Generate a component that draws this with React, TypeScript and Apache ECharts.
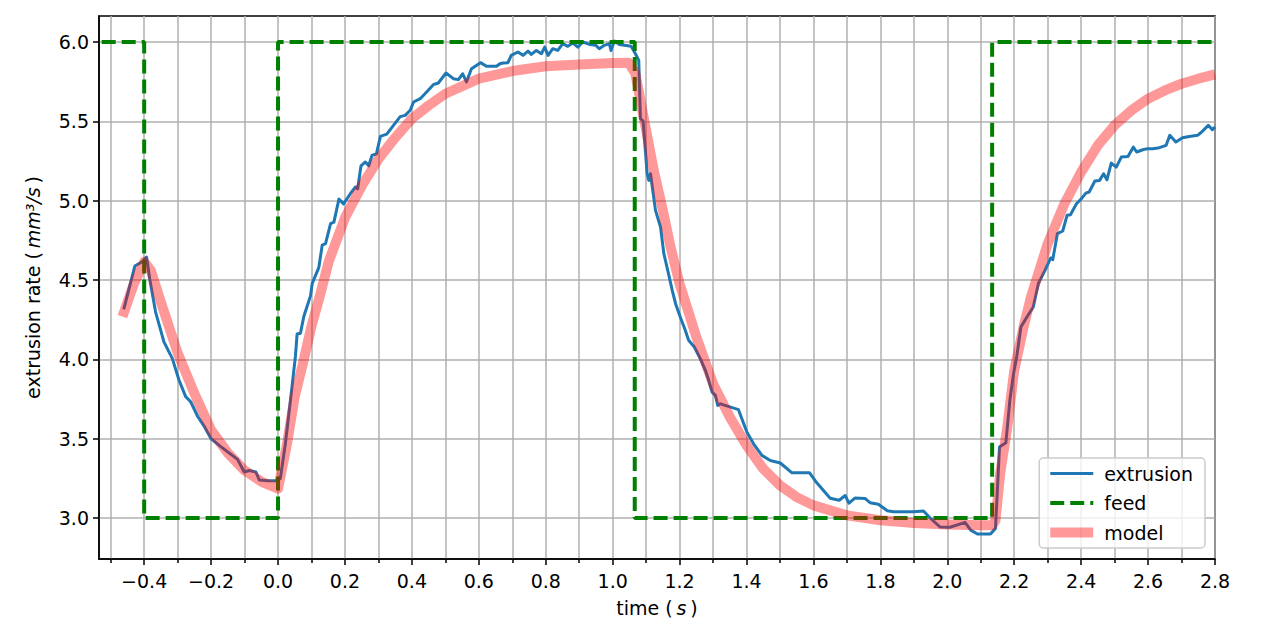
import React, { useEffect, useRef } from "react";
import * as echarts from "echarts";

// time (s), extrusion rate (mm^3/s)
const extrusion: [number, number][] = [
  [-0.461, 4.315], [-0.428, 4.588], [-0.406, 4.615], [-0.393, 4.645], [-0.383, 4.5], [-0.366, 4.3],
  [-0.341, 4.11], [-0.316, 4.006], [-0.296, 3.87], [-0.276, 3.765], [-0.261, 3.733], [-0.24, 3.64],
  [-0.22, 3.576], [-0.2, 3.5], [-0.171, 3.45], [-0.146, 3.41], [-0.121, 3.37], [-0.101, 3.29],
  [-0.086, 3.3], [-0.066, 3.29], [-0.056, 3.24], [-0.031, 3.235], [-0.005, 3.235], [0.007, 3.25],
  [0.022, 3.47], [0.037, 3.74], [0.052, 4.02], [0.057, 4.16], [0.067, 4.165], [0.077, 4.27],
  [0.097, 4.4], [0.102, 4.477], [0.122, 4.58], [0.132, 4.72], [0.142, 4.73], [0.157, 4.855],
  [0.167, 4.865], [0.182, 5.01], [0.196, 4.98], [0.216, 5.044], [0.231, 5.086], [0.238, 5.075],
  [0.248, 5.22], [0.261, 5.244], [0.271, 5.22], [0.281, 5.286], [0.294, 5.296], [0.306, 5.405],
  [0.325, 5.42], [0.345, 5.475], [0.365, 5.53], [0.38, 5.538], [0.395, 5.57], [0.405, 5.622],
  [0.425, 5.643], [0.444, 5.685], [0.464, 5.731], [0.479, 5.742], [0.502, 5.805], [0.524, 5.769],
  [0.539, 5.763], [0.552, 5.8], [0.563, 5.748], [0.578, 5.832], [0.605, 5.87], [0.623, 5.847],
  [0.653, 5.847], [0.663, 5.863], [0.673, 5.868], [0.687, 5.87], [0.697, 5.916], [0.717, 5.937],
  [0.732, 5.916], [0.747, 5.943], [0.757, 5.922], [0.772, 5.947], [0.787, 5.926], [0.797, 5.968],
  [0.807, 5.916], [0.821, 5.958], [0.836, 5.947], [0.851, 5.99], [0.866, 5.973], [0.881, 5.994],
  [0.896, 5.968], [0.911, 6.0], [0.931, 5.985], [0.95, 5.979], [0.96, 5.958], [0.975, 5.979],
  [0.99, 5.99], [0.995, 5.947], [1.005, 6.006], [1.02, 5.985], [1.055, 5.973], [1.068, 5.926],
  [1.078, 5.884], [1.083, 5.517], [1.091, 5.502], [1.103, 5.17], [1.108, 5.128], [1.113, 5.17],
  [1.128, 4.939], [1.143, 4.834], [1.153, 4.666], [1.168, 4.529], [1.178, 4.435], [1.188, 4.351],
  [1.202, 4.267], [1.217, 4.183], [1.227, 4.12], [1.244, 4.078], [1.262, 4.004], [1.277, 3.931],
  [1.287, 3.868], [1.297, 3.794], [1.307, 3.773], [1.314, 3.71], [1.322, 3.72], [1.376, 3.683],
  [1.401, 3.542], [1.421, 3.468], [1.446, 3.395], [1.471, 3.363], [1.501, 3.347], [1.535, 3.286],
  [1.588, 3.286], [1.61, 3.222], [1.65, 3.125], [1.677, 3.112], [1.695, 3.142], [1.706, 3.094],
  [1.724, 3.126], [1.754, 3.124], [1.769, 3.097], [1.794, 3.087], [1.821, 3.046], [1.839, 3.04],
  [1.899, 3.04], [1.929, 3.044], [1.948, 3.002], [1.978, 2.944], [2.008, 2.942], [2.053, 2.973],
  [2.07, 2.924], [2.09, 2.9], [2.129, 2.9], [2.144, 2.935], [2.156, 3.448], [2.175, 3.474],
  [2.187, 3.743], [2.198, 3.91], [2.208, 4.025], [2.22, 4.204], [2.238, 4.267], [2.257, 4.33],
  [2.272, 4.477], [2.292, 4.561], [2.309, 4.639], [2.315, 4.628], [2.329, 4.792], [2.345, 4.809],
  [2.358, 4.908], [2.368, 4.912], [2.386, 4.981], [2.401, 5.013], [2.414, 5.048], [2.424, 5.055],
  [2.441, 5.124], [2.455, 5.128], [2.467, 5.17], [2.477, 5.132], [2.49, 5.237], [2.505, 5.212],
  [2.52, 5.275], [2.54, 5.279], [2.556, 5.338], [2.566, 5.307], [2.584, 5.321], [2.599, 5.328],
  [2.614, 5.328], [2.634, 5.334], [2.654, 5.349], [2.665, 5.412], [2.683, 5.37], [2.703, 5.397],
  [2.723, 5.405], [2.748, 5.412], [2.76, 5.433], [2.78, 5.475], [2.792, 5.447], [2.8, 5.464],
];

const feed: [number, number][] = [
  [-0.527, 6.0], [-0.4, 6.0], [-0.4, 3.0], [0.0, 3.0], [0.0, 6.0], [1.066, 6.0],
  [1.066, 3.0], [2.134, 3.0], [2.134, 6.0], [2.8, 6.0],
];

const model: [number, number][] = [
  [-0.465, 4.27], [-0.43, 4.48], [-0.4, 4.615], [-0.38, 4.56], [-0.35, 4.36], [-0.3, 4.04],
  [-0.25, 3.786], [-0.2, 3.555], [-0.15, 3.41], [-0.1, 3.3], [-0.05, 3.23], [0.0, 3.185],
  [0.027, 3.47], [0.05, 3.765], [0.075, 3.98], [0.1, 4.21], [0.125, 4.4], [0.152, 4.62],
  [0.201, 4.897], [0.251, 5.097], [0.301, 5.265], [0.35, 5.397], [0.4, 5.517], [0.45, 5.6],
  [0.5, 5.674], [0.6, 5.769], [0.7, 5.817], [0.8, 5.847], [0.9, 5.859], [1.0, 5.868],
  [1.048, 5.87], [1.068, 5.8], [1.083, 5.632], [1.1, 5.443], [1.123, 5.19], [1.15, 4.939],
  [1.173, 4.708], [1.2, 4.477], [1.25, 4.141], [1.3, 3.847], [1.35, 3.637], [1.4, 3.458],
  [1.45, 3.311], [1.5, 3.206], [1.55, 3.132], [1.6, 3.08], [1.7, 3.017], [1.8, 2.986],
  [1.9, 2.969], [2.0, 2.96], [2.1, 2.954], [2.135, 2.955], [2.144, 2.985], [2.158, 3.279],
  [2.178, 3.553], [2.2, 3.93], [2.228, 4.204], [2.25, 4.393], [2.3, 4.729], [2.35, 4.981],
  [2.4, 5.181], [2.45, 5.349], [2.5, 5.475], [2.55, 5.569], [2.6, 5.643], [2.65, 5.695],
  [2.7, 5.737], [2.75, 5.769], [2.8, 5.796],
];

const xMajorTicks = [-0.4, -0.2, 0.0, 0.2, 0.4, 0.6, 0.8, 1.0, 1.2, 1.4, 1.6, 1.8, 2.0, 2.2, 2.4, 2.6, 2.8];
const xMinorTicks = [-0.5, -0.3, -0.1, 0.1, 0.3, 0.5, 0.7, 0.9, 1.1, 1.3, 1.5, 1.7, 1.9, 2.1, 2.3, 2.5, 2.7];
const yTicks = [3.0, 3.5, 4.0, 4.5, 5.0, 5.5, 6.0];

const X_MIN = -0.535;
const X_MAX = 2.8;
const Y_MIN = 2.742;
const Y_MAX = 6.164;

const FONT = "DejaVu Sans";
const FS = 19;

const fmt = (v: number) => {
  const s = Math.abs(v).toFixed(1);
  return v < -1e-9 ? "\u2212" + s : s;
};

export default function App() {
  const ref = useRef<HTMLDivElement>(null);

  useEffect(() => {
    if (!ref.current) return;
    const chart = echarts.init(ref.current, null, { renderer: "svg" });
    const tickLine = { color: "#000", width: 1.5 };
    const gridStyle = { color: "#b0b0b0", width: 1.5, type: "solid" as const };
    const vGrid = [...xMajorTicks, ...xMinorTicks].map((v) => ({ xAxis: v }));
    const hGrid = yTicks.map((v) => ({ yAxis: v }));
    const nameStyle = {
      fontSize: FS,
      color: "#000",
      fontFamily: FONT,
      rich: { i: { fontSize: FS, fontStyle: "italic", fontFamily: FONT, color: "#000" } },
    };

    chart.setOption({
      animation: false,
      grid: {
        left: 99,
        right: 51,
        top: 16,
        bottom: 73,
        show: true,
        borderColor: "#000",
        borderWidth: 1.5,
        backgroundColor: "transparent",
        containLabel: false,
        outerBoundsMode: "none",
      },
      xAxis: [
        {
          type: "value",
          min: X_MIN,
          max: X_MAX,
          position: "bottom",
          axisLine: { show: true, onZero: false, lineStyle: tickLine },
          axisTick: { show: true, customValues: xMajorTicks, length: 6, lineStyle: tickLine },
          axisLabel: {
            customValues: xMajorTicks,
            formatter: fmt,
            fontSize: FS,
            color: "#000",
            fontFamily: FONT,
            margin: 12,
          },
          splitLine: { show: false },
          name: "time (\u2009{i|s}\u2009)",
          nameLocation: "middle",
          nameGap: 39,
          nameTextStyle: nameStyle,
        },
        {
          type: "value",
          min: X_MIN,
          max: X_MAX,
          position: "bottom",
          gridIndex: 0,
          axisLine: { show: false, onZero: false },
          axisTick: { show: true, customValues: xMinorTicks, length: 4, lineStyle: tickLine },
          axisLabel: { show: false },
          splitLine: { show: false },
        },
      ],
      yAxis: {
        type: "value",
        min: Y_MIN,
        max: Y_MAX,
        axisLine: { show: true, onZero: false, lineStyle: tickLine },
        axisTick: { show: true, customValues: yTicks, length: 6, lineStyle: tickLine },
        axisLabel: {
          customValues: yTicks,
          formatter: (v: number) => v.toFixed(1),
          fontSize: FS,
          color: "#000",
          fontFamily: FONT,
          margin: 10,
        },
        splitLine: { show: false },
        name: "extrusion rate (\u2009{i|mm³/s}\u2009)",
        nameLocation: "middle",
        nameRotate: 90,
        nameGap: 57,
        nameTextStyle: nameStyle,
      },
      legend: {
        data: ["extrusion", "feed", "model"],
        orient: "vertical",
        right: 61,
        bottom: 84,
        itemWidth: 43,
        itemHeight: 14,
        itemGap: 10.5,
        padding: [6, 12, 6, 6],
        backgroundColor: "rgba(255,255,255,0.8)",
        borderColor: "#cccccc",
        borderWidth: 1.5,
        borderRadius: 4,
        selectedMode: false,
        itemStyle: { opacity: 0 },
        lineStyle: { width: "inherit", type: "inherit", color: "inherit" },
        textStyle: { fontSize: FS, color: "#000", fontFamily: FONT, padding: [0, 0, 0, 6] },
      },
      series: [
        {
          name: "_grid",
          type: "line",
          data: [],
          silent: true,
          markLine: {
            silent: true,
            z: 0,
            symbol: ["none", "none"],
            label: { show: false },
            lineStyle: gridStyle,
            emphasis: { disabled: true },
            data: [...vGrid, ...hGrid],
          },
        },
        {
          name: "extrusion",
          type: "line",
          data: extrusion,
          symbol: "none",
          showSymbol: false,
          z: 2,
          lineStyle: { color: "#1f77b4", width: 3, join: "round" },
          itemStyle: { color: "#1f77b4" },
        },
        {
          name: "feed",
          type: "line",
          data: feed,
          symbol: "none",
          showSymbol: false,
          z: 3,
          lineStyle: { color: "#008000", width: 4, type: [14, 6] },
          itemStyle: { color: "#008000" },
        },
        {
          name: "model",
          type: "line",
          data: model,
          symbol: "none",
          showSymbol: false,
          z: 4,
          lineStyle: { color: "rgba(255,0,0,0.4)", width: 10, join: "round" },
          itemStyle: { color: "rgba(255,0,0,0.4)" },
        },
      ],
    });

    return () => chart.dispose();
  }, []);

  return (
    <div
      ref={ref}
      style={{ position: "absolute", left: 0, top: 0, width: 1266, height: 632 }}
    />
  );
}
